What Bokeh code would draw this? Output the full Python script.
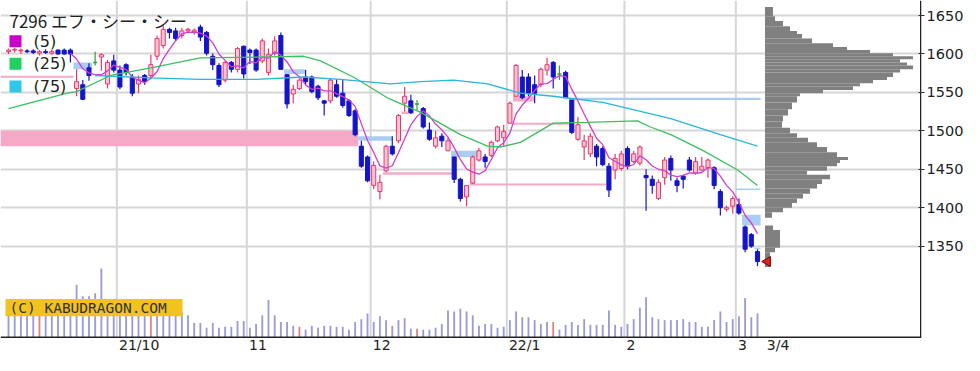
import numpy as np
import pandas as pd
from bokeh.plotting import figure
from bokeh.models import Range1d, FixedTicker
from bokeh.core.properties import value
from bokeh.embed import file_html
from bokeh.resources import INLINE

# ---------------- data ----------------
title_text = "7296 エフ・シー・シー"
ma_labels = ["(5)", "(25)", "(75)"]
ma_colors = ["#c800c8", "#22d060", "#2ec8e6"]
month_labels = ["21/10", "11", "12", "22/1", "2", "3"]
month_start_idx = [18, 39, 59, 81, 100, 118]
last_label = "3/4"
price_ticks = [1350, 1400, 1450, 1500, 1550, 1600, 1650]
copyright_text = "(C) KABUDRAGON.COM"

opens = [1603, 1605, 1604, 1604, 1604, 1601, 1603, 1601, 1605, 1605, 1605,
         1555, 1560, 1582, 1589, 1596, 1561, 1591, 1579, 1586, 1570,
         1561, 1572, 1572, 1597, 1611, 1632, 1630, 1624, 1630, 1629,
         1635, 1628, 1597, 1585, 1566, 1589, 1580, 1610, 1605, 1605,
         1591, 1576, 1601, 1624, 1573, 1548, 1555, 1570, 1570, 1558,
         1539, 1539, 1560, 1549, 1539, 1526, 1480, 1466, 1429, 1421,
         1448, 1480, 1487, 1536, 1539, 1535, 1529, 1501, 1480, 1493,
         1474, 1466, 1437, 1414, 1432, 1462, 1466, 1468, 1487, 1491,
         1510, 1545, 1570, 1570, 1560, 1560, 1579, 1589, 1574, 1576,
         1540, 1489, 1479, 1470, 1480, 1477, 1454, 1449, 1451, 1477,
         1460, 1458, 1442, 1437, 1412, 1439, 1464, 1435, 1441, 1462,
         1445, 1449, 1452, 1452, 1421, 1398, 1402, 1404, 1375, 1365, 1343]
highs = [1607, 1608, 1607, 1606, 1606, 1605, 1606, 1605, 1606, 1607, 1607,
         1580, 1566, 1588, 1603, 1601, 1592, 1599, 1585, 1588, 1574,
         1572, 1574, 1599, 1624, 1637, 1634, 1634, 1634, 1634, 1633,
         1638, 1630, 1601, 1588, 1591, 1591, 1609, 1611, 1607, 1607,
         1620, 1607, 1623, 1628, 1574, 1560, 1568, 1579, 1572, 1560,
         1540, 1568, 1567, 1566, 1541, 1528, 1487, 1468, 1460, 1443,
         1482, 1493, 1522, 1557, 1547, 1540, 1531, 1511, 1500, 1497,
         1491, 1466, 1439, 1429, 1468, 1478, 1470, 1487, 1507, 1508,
         1538, 1587, 1579, 1575, 1572, 1582, 1595, 1591, 1585, 1578,
         1540, 1518, 1495, 1497, 1483, 1480, 1458, 1470, 1474, 1480,
         1474, 1481, 1450, 1442, 1437, 1466, 1468, 1439, 1443, 1466,
         1466, 1466, 1464, 1454, 1424, 1403, 1415, 1412, 1377, 1367, 1346]
lows = [1600, 1602, 1600, 1601, 1600, 1598, 1600, 1599, 1599, 1599, 1589,
        1545, 1540, 1565, 1585, 1578, 1555, 1576, 1554, 1572, 1545,
        1549, 1560, 1567, 1592, 1607, 1620, 1617, 1620, 1628, 1625,
        1617, 1598, 1579, 1557, 1563, 1576, 1576, 1568, 1587, 1577,
        1588, 1572, 1598, 1580, 1529, 1536, 1553, 1561, 1549, 1540,
        1520, 1536, 1543, 1530, 1518, 1493, 1452, 1433, 1424, 1411,
        1446, 1468, 1484, 1525, 1522, 1527, 1503, 1487, 1477, 1479,
        1474, 1432, 1408, 1402, 1431, 1460, 1452, 1466, 1485, 1480,
        1510, 1545, 1541, 1545, 1536, 1557, 1572, 1555, 1566, 1543,
        1496, 1487, 1462, 1466, 1454, 1454, 1414, 1437, 1448, 1450,
        1458, 1455, 1396, 1418, 1410, 1430, 1435, 1420, 1425, 1447,
        1443, 1447, 1439, 1424, 1390, 1395, 1392, 1391, 1342, 1348, 1324]
closes = [1605, 1606, 1605, 1603, 1602, 1603, 1602, 1603, 1600, 1600, 1600,
          1564, 1541, 1572, 1589, 1599, 1589, 1579, 1557, 1576, 1549,
          1567, 1564, 1586, 1620, 1632, 1628, 1620, 1630, 1632, 1631,
          1622, 1601, 1586, 1560, 1589, 1580, 1607, 1574, 1602, 1579,
          1617, 1599, 1617, 1580, 1535, 1554, 1566, 1564, 1551, 1543,
          1536, 1566, 1545, 1533, 1520, 1495, 1454, 1435, 1455, 1433,
          1480, 1470, 1520, 1545, 1524, 1535, 1505, 1489, 1491, 1487,
          1487, 1437, 1412, 1429, 1466, 1474, 1460, 1485, 1505, 1499,
          1536, 1585, 1543, 1549, 1549, 1580, 1586, 1570, 1574, 1543,
          1498, 1508, 1487, 1493, 1466, 1456, 1423, 1464, 1470, 1454,
          1470, 1479, 1439, 1429, 1433, 1462, 1449, 1429, 1437, 1449,
          1460, 1454, 1462, 1429, 1400, 1400, 1412, 1393, 1346, 1350, 1330]
# daily volume (hundreds of shares)
volumes = [300, 320, 280, 300, 270, 330, 290, 310, 280, 300, 350,
           550, 430, 430, 460, 720,
           380, 340, 320, 300, 360, 330, 300, 360, 320, 300, 280, 300, 260,
           230, 150, 150, 100, 150, 100, 110, 110, 170, 170,
           100, 140, 230, 390, 230, 160, 160, 120, 110, 80,
           120, 100, 120, 120, 110, 110, 80, 160, 190, 250,
           160, 220, 180, 120, 180, 200, 90, 90, 80, 80,
           100, 140, 280, 270, 300, 270, 230, 120, 140, 140,
           100,
           110, 180, 270, 210, 210, 180, 140, 160, 160, 80,
           130, 160, 130, 190, 130, 130, 130, 280, 130, 110,
           140, 190, 310, 420, 210, 190, 180, 180, 180, 190,
           160, 160, 110, 110, 180, 270, 160, 190, 220, 410, 210, 250]
sq_days = [5, 23, 47, 66, 88]

ma25_day = [0, 9.5, 11, 16.5, 23, 31, 40, 47.7, 50.4, 55.7, 61.2, 66.6, 73,
            77.4, 79.5, 82.7, 88, 93.5, 101.6, 103.7, 107, 112.3, 117.8, 121]
ma25_val = [1529, 1549, 1551, 1572, 1582, 1595, 1596, 1597, 1591, 1570, 1543,
            1524, 1495, 1480, 1479, 1485, 1510, 1511, 1513, 1505, 1495, 1474,
            1449, 1429]
ma75_day = [14, 23, 31, 40, 47.7, 53.6, 61.7, 66.6, 71.9, 77.4, 82.7, 88, 96,
            107, 115, 121]
ma75_val = [1572, 1569, 1567, 1567, 1570, 1567, 1561, 1564, 1566, 1561, 1549,
            1545, 1537, 1516, 1495, 1480]

# open price gaps ("windows")
win_start = [-1.3, -1.3, 10.5, 44.5, 56.5, 60.5, 71.5, 74.5, 81.5, 81.5, 63.5,
             90.5, 117.5, 118.5, 120.5]
win_end = [56.5, 10.5, 13.5, 48, 62, 72, 76, 96.5, 91, 85, 65.5,
           121.5, 121.5, 121.5, 121.5]
win_low = [1480, 1569, 1580, 1574, 1487, 1443, 1466, 1429, 1508, 1538, 1522,
           1540, 1423, 1377, 1346]
win_high = [1500, 1571.5, 1589, 1580, 1493, 1446, 1474, 1431.5, 1510.5, 1545,
            1525, 1543, 1425, 1391, 1348]
win_dir = ["up", "up", "down", "down", "down", "up", "down", "up", "up", "up",
           "up", "down", "down", "down", "down"]

# volume by price level
profile_top = [1661, 1649, 1643, 1636, 1630, 1626, 1620, 1614, 1609, 1605, 1601,
               1597, 1593, 1589, 1585, 1580, 1576, 1570, 1566, 1562, 1558, 1553,
               1549, 1545, 1537, 1528, 1520, 1512, 1504, 1497, 1491, 1485, 1479,
               1472, 1466, 1462, 1458, 1454, 1448, 1443, 1437, 1431, 1425, 1418,
               1412, 1406, 1400, 1394, 1377, 1371, 1348, 1342]
profile_bottom = [1649, 1643, 1636, 1630, 1626, 1620, 1614, 1609, 1605, 1601, 1597,
                  1593, 1589, 1585, 1580, 1576, 1570, 1566, 1562, 1558, 1553, 1549,
                  1545, 1537, 1528, 1520, 1512, 1504, 1497, 1491, 1485, 1479, 1472,
                  1466, 1462, 1458, 1454, 1448, 1443, 1437, 1431, 1425, 1418, 1412,
                  1406, 1400, 1394, 1387, 1371, 1348, 1342, 1323]
profile_vol = [8, 10, 18, 25, 32, 37, 47, 68, 82, 105, 128,
               148, 135, 142, 148, 135, 128, 122, 108, 95, 88, 58,
               35, 32, 27, 23, 18, 17, 25, 32, 43, 52, 62,
               72, 83, 75, 72, 62, 42, 65, 57, 52, 45, 38,
               32, 27, 18, 7, 8, 15, 10, 5]

# ---------------- layout helpers (reference pixels -> data units) ----------------
REF_PX_PER_DAY = 6.19
REF_DAY0_PX = 8.0
REF_PX_PER_YEN = 40.17 / 50.0
REF_Y_1650 = 15.7
REF_BASE_PX = 352
REF_BOTTOM_PX = 371


def rx(px):
    return (px - REF_DAY0_PX) / REF_PX_PER_DAY


def ry(px):
    return 1650 - (px - REF_Y_1650) / REF_PX_PER_YEN


X_LO, X_HI = rx(0), rx(921)
PRICE_HI, PRICE_LO = ry(0), ry(REF_BOTTOM_PX)
PRICE_BASE = ry(REF_BASE_PX)
VOL_PER_PX = 10.0
VOL_HI = REF_BASE_PX * VOL_PER_PX
VOL_LO = -(REF_BOTTOM_PX - REF_BASE_PX) * VOL_PER_PX

p = figure(frame_width=921, frame_height=355,
           x_range=Range1d(X_LO, X_HI), y_range=Range1d(PRICE_LO, PRICE_HI),
           x_axis_location=None, y_axis_location="right",
           toolbar_location=None, output_backend="svg",
           min_border_left=0, min_border_right=43, min_border_top=0,
           min_border_bottom=0, outline_line_color=None,
           background_fill_color="white", border_fill_color="white")
p.extra_y_ranges = {"vol": Range1d(VOL_LO, VOL_HI)}

ax = p.yaxis[0]
ax.ticker = FixedTicker(ticks=price_ticks)
ax.axis_line_color = None
ax.major_tick_line_color = "#333333"
ax.major_tick_in = 3
ax.major_tick_out = 3
ax.minor_tick_line_color = None
ax.major_label_standoff = 2
ax.major_label_text_font = "DejaVu Sans"
ax.major_label_text_font_size = "14.5px"
ax.major_label_text_color = "#222222"

p.ygrid.ticker = FixedTicker(ticks=price_ticks)
p.ygrid.grid_line_color = "#d6d6d6"
p.ygrid.grid_line_width = 2
p.xgrid.visible = False

n = len(closes)
idx = np.arange(n)
o = np.array(opens, float)
h = np.array(highs, float)
l = np.array(lows, float)
c = np.array(closes, float)

# month grid lines
gx = [m - 0.5 for m in month_start_idx]
p.segment(x0=gx, y0=[PRICE_BASE] * len(gx), x1=gx, y1=[PRICE_HI] * len(gx),
          line_color="#d6d6d6", line_width=2)

# gap windows
win_colors = ["#f5a9c6" if d == "up" else "#a9cdf3" for d in win_dir]
p.quad(left=win_start, right=win_end, bottom=win_low, top=win_high,
       fill_color=win_colors, line_color=None)

# volume bars
vol_colors = ["#e08484" if i in sq_days else "#9b9bd8" for i in range(n)]
p.vbar(x=idx, width=0.3, top=volumes, bottom=0, fill_color=vol_colors,
       line_color=None, y_range_name="vol")

# candles
UP_LINE, UP_FILL, DN, DOJI = "#e63a6c", "#fbc4d4", "#1414c8", "#33a033"
col = np.where(c > o, UP_LINE, np.where(c < o, DN, DOJI))
fill = np.where(c > o, UP_FILL, np.where(c < o, DN, DOJI))
p.segment(x0=idx, y0=l, x1=idx, y1=h, line_color=list(col), line_width=1.2)
body = c != o
p.vbar(x=idx[body], width=0.66, top=np.maximum(o, c)[body],
       bottom=np.minimum(o, c)[body], fill_color=list(fill[body]),
       line_color=list(col[body]), line_width=1)
dj = ~body
p.segment(x0=idx[dj] - 0.33, y0=c[dj], x1=idx[dj] + 0.33, y1=c[dj],
          line_color=DOJI, line_width=1.5)

# moving averages
ma5 = pd.Series(c).rolling(5).mean().to_numpy()
start5 = 10
p.line(idx[start5:], ma5[start5:], line_color="#d23cd2", line_width=1.3)
p.line(ma25_day, ma25_val, line_color="#3cc060", line_width=1.3)
p.line(ma75_day, ma75_val, line_color="#28b6da", line_width=1.3)

# volume-by-price profile
px0 = rx(764.5)
pw = 148 / REF_PX_PER_DAY
pv = np.array(profile_vol, float)
p.quad(left=px0, right=px0 + pv / pv.max() * pw, bottom=profile_bottom,
       top=profile_top, fill_color="#808080", line_color=None)

# latest price marker
p.scatter(x=[rx(767)], y=[closes[-1]], marker="triangle", size=10,
          angle=np.pi / 2, fill_color="#e02020", line_color="#700000",
          line_width=1)

# frame borders
p.segment(x0=[X_LO], y0=[PRICE_BASE], x1=[X_HI], y1=[PRICE_BASE],
          line_color="#222222", line_width=1.5)
xr = X_HI - 0.12
p.segment(x0=[xr], y0=[PRICE_BASE], x1=[xr], y1=[PRICE_HI],
          line_color="#222222", line_width=1.5)

# copyright tag
p.quad(left=[rx(5)], right=[rx(182)], bottom=[(REF_BASE_PX - 330) * VOL_PER_PX],
       top=[(REF_BASE_PX - 312) * VOL_PER_PX], fill_color="#f2c21e",
       line_color=None, y_range_name="vol")
p.text(x=[rx(9)], y=[(REF_BASE_PX - 321) * VOL_PER_PX], text=[copyright_text],
       text_font=value("DejaVu Sans Mono"), text_font_size="14.5px",
       text_color="#333333", text_align="left", text_baseline="middle",
       y_range_name="vol")

# title and legend
p.text(x=[rx(9)], y=[ry(21)], text=[title_text],
       text_font=value("Noto Sans CJK JP"), text_font_size="17px",
       text_color="#222222", text_align="left", text_baseline="middle")
leg_y = [ry(42.5), ry(66), ry(90)]
p.scatter(x=[rx(15)] * 3, y=leg_y, marker="square", size=12,
          fill_color=ma_colors, line_color=None)
p.text(x=[rx(33)] * 3, y=leg_y, text=ma_labels,
       text_font=value("DejaVu Sans"), text_font_size="16px",
       text_color="#222222", text_align="left", text_baseline="middle")

# date labels
lab_x = [m - 0.15 for m in month_start_idx] + [n - 1 + 1.5]
lab_t = month_labels + [last_label]
p.text(x=lab_x, y=[ry(360)] * len(lab_x), text=lab_t,
       text_font=value("DejaVu Sans"), text_font_size="14px",
       text_color="#222222", text_align="left", text_baseline="middle")

open("out.html", "w").write(file_html(p, INLINE))
